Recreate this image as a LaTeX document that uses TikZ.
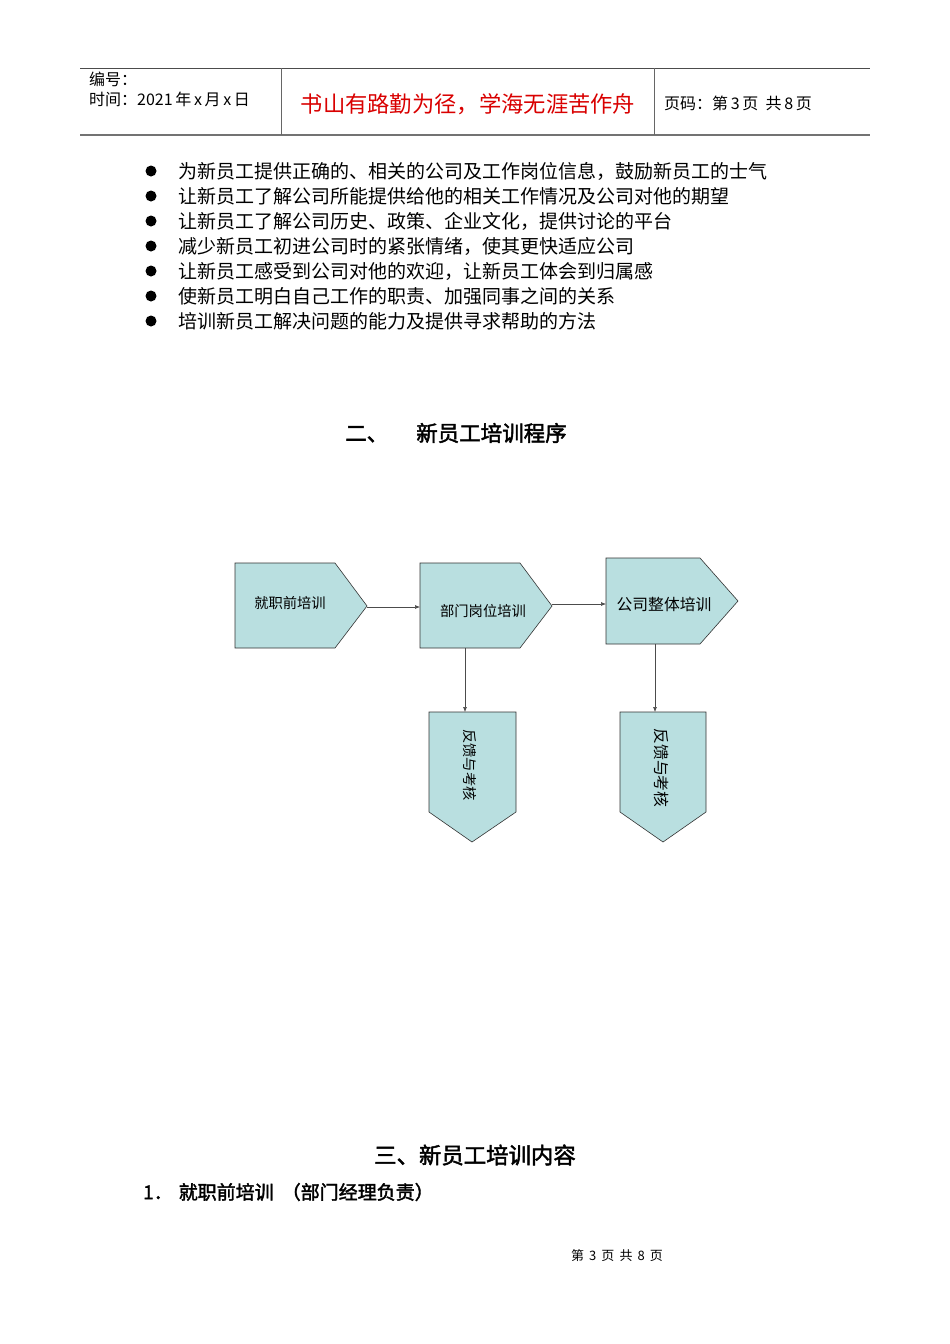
\documentclass[tikz,border=0pt]{standalone}
\usepackage{fontspec}
\usetikzlibrary{arrows.meta}
\newfontfamily\cjk{Noto Sans CJK SC}
\newfontfamily\cjkb[FakeBold=2]{Noto Sans CJK SC}
\definecolor{boxfill}{HTML}{B9DFE0}
\begin{document}
\begin{tikzpicture}[x=1pt,y=-1pt,
  shp/.style={draw=black!80,fill=boxfill,line width=0.6pt},
  lbl/.style={font=\cjk\fontsize{14.3}{16}\selectfont},
  conn/.style={draw=black!70,line width=0.6pt,-{Latex[length=5pt,width=4pt]}},
  body/.style={anchor=west,font=\cjk\fontsize{19}{21}\selectfont,inner sep=0}]
\useasboundingbox[fill=white] (0,0) rectangle (950,1344);
% header
\draw[black!70,line width=0.6pt] (80,68) -- (870,68);
\draw[black!55,line width=1.6pt] (80,135) -- (870,135);
\draw[black!60,line width=0.5pt] (281,68) -- (281,135) (654,68) -- (654,135);
\node[anchor=west,inner sep=0,font=\cjk\fontsize{16}{18}\selectfont] (h1) at (89,79) {编号：};
\node[anchor=west,inner sep=0,font=\cjk\fontsize{16}{18}\selectfont] (h2) at (89,99) {时间：2021\,年\,x\,月\,x\,日};
\node[font=\cjk\fontsize{22.3}{24}\selectfont,text=red!85!black] (h3) at (468,104) {书山有路勤为径，学海无涯苦作舟};
\node[anchor=west,inner sep=0,font=\cjk\fontsize{16}{18}\selectfont] (h4) at (664,103) {页码：第\,3\,页\ \ 共\,8\,页};
% bullets
\foreach \t [count=\i] in {为新员工提供正确的、相关的公司及工作岗位信息，鼓励新员工的士气,
  让新员工了解公司所能提供给他的相关工作情况及公司对他的期望,
  让新员工了解公司历史、政策、企业文化，提供讨论的平台,
  减少新员工初进公司时的紧张情绪，使其更快适应公司,
  让新员工感受到公司对他的欢迎，让新员工体会到归属感,
  使新员工明白自己工作的职责、加强同事之间的关系,
  培训新员工解决问题的能力及提供寻求帮助的方法} {
  \fill (151,{171+25*(\i-1)}) circle (5.5);
  \node[body] (b\i) at (178,{171+25*(\i-1)}) {\t};
}
\node[font=\cjkb\fontsize{21.5}{23}\selectfont] (t2) at (456,433) {二、\hspace{28pt}新员工培训程序};
% shapes
\draw[shp] (235,563) -- (335,563) -- (367,606) -- (335,648) -- (235,648) -- cycle;
\draw[shp] (420,563) -- (520,563) -- (552,606) -- (520,648) -- (420,648) -- cycle;
\draw[shp] (606,558) -- (700,558) -- (738,601) -- (700,644) -- (606,644) -- cycle;
\draw[shp] (429,712) -- (516,712) -- (516,812) -- (472,842) -- (429,812) -- cycle;
\draw[shp] (620,712) -- (706,712) -- (706,812) -- (663,842) -- (620,812) -- cycle;
\node[lbl] (A) at (290,603) {就职前培训};
\node[lbl] (B) at (483,611) {部门岗位培训};
\node[lbl,font=\cjk\fontsize{15.8}{17}\selectfont] (C) at (664,604) {公司整体培训};
\node[lbl,rotate=-90] (D) at (470,765) {反馈与考核};
\node[lbl,rotate=-90,font=\cjk\fontsize{15.8}{17}\selectfont] (E) at (662,768) {反馈与考核};
\coordinate (a1) at (367,607); \coordinate (b1) at (420,607);
\coordinate (b2) at (552,604); \coordinate (c1) at (606,604);
\coordinate (b3) at (465,648); \coordinate (d1) at (465,712);
\coordinate (c2) at (655,644); \coordinate (e1) at (655,712);
\draw[conn] (a1) -- (b1);
\draw[conn] (b2) -- (c1);
\draw[conn] (b3) -- (d1);
\draw[conn] (c2) -- (e1);
% bottom
\node[font=\cjkb\fontsize{22.4}{24}\selectfont] (t3) at (475,1155) {三、新员工培训内容};
\node[anchor=west,inner sep=0,font=\cjkb\fontsize{19}{21}\selectfont] (t4) at (143,1192) {1．\hspace{6pt}就职前培训\hspace{8pt}（部门经理负责）};
\node[font=\cjk\fontsize{13}{15}\selectfont] (ft) at (617,1256) {第\ \,3\ \,页\ \,共\ \,8\ \,页};
\end{tikzpicture}
\end{document}
